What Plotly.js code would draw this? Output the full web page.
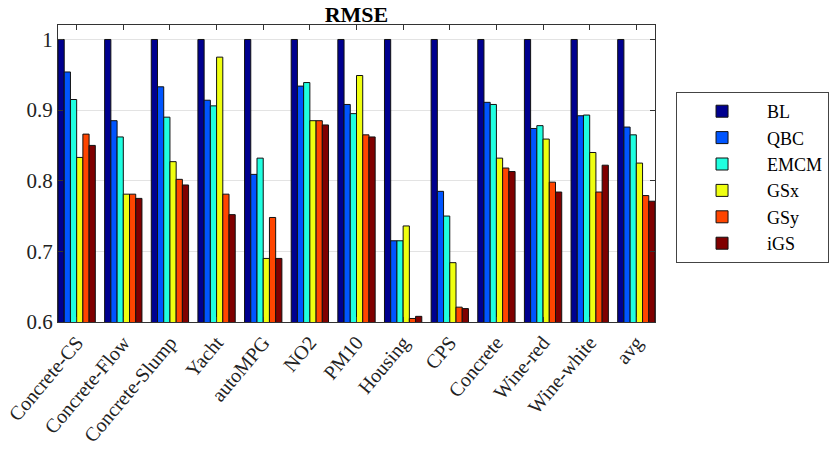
<!DOCTYPE html>
<html>
<head>
<meta charset="utf-8">
<script src="https://cdn.plot.ly/plotly-3.0.1.min.js"></script>
<style>html,body{margin:0;padding:0;background:#fff;}#chart{width:830px;height:451px;}</style>
</head>
<body>
<div id="chart"></div>
<script>
const categories = ["Concrete-CS","Concrete-Flow","Concrete-Slump","Yacht","autoMPG","NO2","PM10","Housing","CPS","Concrete","Wine-red","Wine-white","avg"];
const seriesNames = ["BL","QBC","EMCM","GSx","GSy","iGS"];
const BL   = [1,1,1,1,1,1,1,1,1,1,1,1,1];
const QBC  = [0.954,0.885,0.933,0.914,0.809,0.934,0.908,0.715,0.785,0.911,0.874,0.892,0.876];
const EMCM = [0.915,0.862,0.890,0.906,0.832,0.939,0.895,0.715,0.750,0.908,0.878,0.893,0.865];
const GSx  = [0.833,0.781,0.827,0.975,0.690,0.885,0.949,0.736,0.684,0.832,0.859,0.840,0.825];
const GSy  = [0.866,0.781,0.802,0.781,0.748,0.885,0.865,0.605,0.621,0.818,0.798,0.784,0.779];
const iGS  = [0.850,0.775,0.794,0.752,0.690,0.879,0.862,0.608,0.619,0.813,0.784,0.822,0.771];
const yTicks = [0.6,0.7,0.8,0.9,1];
const yTickLabels = ["0.6","0.7","0.8","0.9","1"];
const colors = ["#00008f","#0055ff","#1fffe0","#efff10","#ff4500","#800000"];

const allSeries = [BL,QBC,EMCM,GSx,GSy,iGS];
const font = "Liberation Serif";
const traces = allSeries.map((vals,i)=>({
  type:"bar",
  name:seriesNames[i],
  x:categories,
  y:vals,
  marker:{color:colors[i], line:{color:"#111", width:1}},
  hoverinfo:"x+y+name"
}));

const layout = {
  width:830, height:451,
  margin:{l:58, r:175, t:25, b:129, autoexpand:false},
  paper_bgcolor:"#fff", plot_bgcolor:"#fff",
  font:{family:font, size:20, color:"#222"},
  title:{text:"<b>RMSE</b>", x:0.5, xref:"paper", yref:"paper", y:1, yanchor:"bottom", pad:{b:3}, font:{family:font, size:22, color:"#000"}},
  barmode:"group", bargap:0.2, bargroupgap:0,
  xaxis:{
    type:"category", range:[-0.4,12.4], automargin:false,
    tickangle:-50, ticks:"inside", ticklen:5, tickcolor:"#333",
    showline:true, linecolor:"#333", linewidth:1, mirror:"ticks",
    showgrid:false, tickfont:{family:font, size:20, color:"#222"}
  },
  yaxis:{
    range:[0.6,1.0205], tickvals:yTicks, ticktext:yTickLabels, automargin:false,
    ticks:"inside", ticklen:5, tickcolor:"#333",
    showline:true, linecolor:"#333", linewidth:1, mirror:"ticks",
    showgrid:true, gridcolor:"#e3e3e3", zeroline:false,
    tickfont:{family:font, size:21, color:"#222"}
  },
  showlegend:true,
  legend:{
    xref:"container", yref:"container",
    x:0.8145, xanchor:"left", y:0.796, yanchor:"top",
    bordercolor:"#444", borderwidth:1, bgcolor:"#fff",
    font:{family:font, size:18, color:"#000"},
    tracegroupgap:0, itemwidth:80
  }
};

Plotly.newPlot("chart", traces, layout, {displayModeBar:false, responsive:false});
</script>
</body>
</html>
